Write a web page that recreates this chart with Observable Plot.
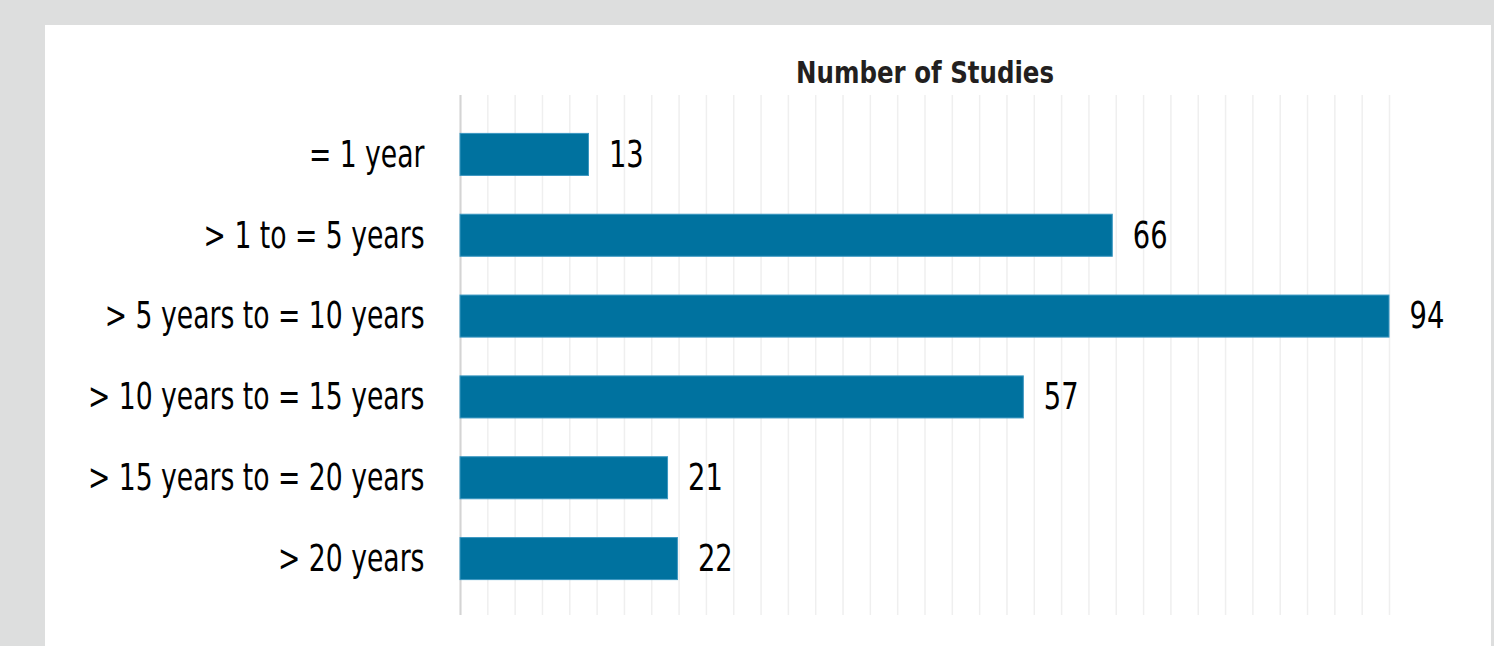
<!DOCTYPE html>
<html>
<head>
<meta charset="utf-8">
<script src="https://cdn.jsdelivr.net/npm/d3@7"></script>
<script src="https://cdn.jsdelivr.net/npm/@observablehq/plot@0.6"></script>
<style>
  html, body { margin: 0; padding: 0; background: #dddede; width: 1494px; height: 646px; overflow: hidden; }
  #panel { position: absolute; left: 45px; top: 25px; width: 1446px; height: 621px; background: #ffffff; }
  #chart { position: absolute; left: 0; top: 0; }
</style>
</head>
<body>
<div id="panel"></div>
<div id="chart"></div>
<script>
const categories = [
  "= 1 year",
  "> 1 to = 5 years",
  "> 5 years to = 10 years",
  "> 10 years to = 15 years",
  "> 15 years to = 20 years",
  "> 20 years"
];
const studies = [13, 66, 94, 57, 21, 22];
const title = "Number of Studies";
const xMax = 94;
const gridCount = 34;

const data = categories.map((c, i) => ({category: c, value: studies[i]}));
const gridTicks = d3.range(gridCount + 1).map(i => i * xMax / gridCount);

const fontFamily = "'DejaVu Sans', sans-serif";

const chart = Plot.plot({
  width: 1494,
  height: 646,
  marginLeft: 460,
  marginRight: 105,
  marginTop: 95,
  marginBottom: 31,
  style: {background: "transparent", fontFamily, color: "#000"},
  x: {domain: [0, xMax], axis: null},
  y: {domain: categories, paddingInner: 0.48, paddingOuter: 0.24, insetTop: 19, insetBottom: 16, round: false, axis: null},
  marks: [
    Plot.ruleX(gridTicks, {stroke: "#efefef", strokeWidth: 1.5}),
    Plot.ruleX([0], {stroke: "#d4d4d4", strokeWidth: 2}),
    Plot.barX(data, {x: "value", y: "category", fill: "#00729f", stroke: "#3b97c1", strokeWidth: 1}),
    Plot.text(data, {x: "value", y: "category", text: d => String(d.value), textAnchor: "start", dx: 20, fontSize: 37, fill: "#000"}),
    Plot.axisY({tickSize: 0, tickPadding: 36, fontSize: 37, label: null, textAnchor: "end"}),
    Plot.text([title], {frameAnchor: "top", dy: -22, lineAnchor: "middle", fontSize: 31, fontWeight: "bold", fill: "#231f20"})
  ]
});
document.getElementById("chart").appendChild(chart);

// Emulate the condensed typeface of the original by compressing glyph widths
chart.querySelectorAll("text").forEach(t => {
  const s = t.textContent;
  const k = s === title ? 0.79 : categories.includes(s) ? 0.72 : 0.74;
  const w = t.getComputedTextLength();
  t.setAttribute("textLength", (w * k).toFixed(1));
  t.setAttribute("lengthAdjust", "spacingAndGlyphs");
});
</script>
</body>
</html>
